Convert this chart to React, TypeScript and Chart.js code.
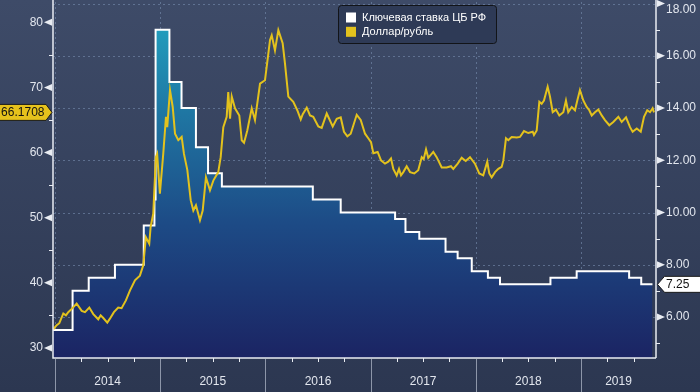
import React, { useEffect, useRef } from 'react';
import { Chart, registerables } from 'chart.js';

Chart.register(...registerables);

// ---------- DATA ----------
const seriesNames = ['Ключевая ставка ЦБ РФ', 'Доллар/рубль'];

// Key rate (CBR), effective dates and values (%)
const rateDates = [
  '2013-12-24', '2014-03-03', '2014-04-28', '2014-07-28', '2014-11-05', '2014-12-12',
  '2014-12-16', '2015-02-02', '2015-03-16', '2015-05-05', '2015-06-16', '2015-08-03',
  '2016-06-14', '2016-09-19', '2017-03-27', '2017-05-02', '2017-06-19', '2017-09-18',
  '2017-10-30', '2017-12-18', '2018-02-12', '2018-03-26', '2018-09-17', '2018-12-17',
  '2019-06-17', '2019-07-29', '2019-09-06',
];
const rateValues = [
  5.5, 7, 7.5, 8, 9.5, 10.5,
  17, 15, 14, 12.5, 11.5, 11,
  10.5, 10, 9.75, 9.25, 9, 8.5,
  8.25, 7.75, 7.5, 7.25, 7.5, 7.75,
  7.5, 7.25, 7.25,
];

// USD/RUB, time as decimal year
const fxYears = [
  2013.985, 2014.016, 2014.041, 2014.079, 2014.104, 2014.126, 2014.159, 2014.206, 2014.254, 2014.285,
  2014.326, 2014.364, 2014.411, 2014.434, 2014.459, 2014.497, 2014.522, 2014.560, 2014.601, 2014.633,
  2014.674, 2014.712, 2014.760, 2014.807, 2014.839, 2014.864, 2014.896, 2014.909, 2014.934, 2014.959,
  2014.971, 2014.997, 2015.029, 2015.055, 2015.067, 2015.093, 2015.119, 2015.141, 2015.172, 2015.204,
  2015.226, 2015.258, 2015.290, 2015.315, 2015.340, 2015.378, 2015.404, 2015.435, 2015.473, 2015.505,
  2015.552, 2015.575, 2015.600, 2015.632, 2015.647, 2015.664, 2015.680, 2015.711, 2015.752, 2015.775,
  2015.797, 2015.828, 2015.870, 2015.901, 2015.949, 2015.996, 2016.028, 2016.044, 2016.060, 2016.091,
  2016.123, 2016.164, 2016.186, 2016.218, 2016.265, 2016.303, 2016.336, 2016.355, 2016.393, 2016.424,
  2016.455, 2016.503, 2016.535, 2016.583, 2016.640, 2016.678, 2016.716, 2016.747, 2016.779, 2016.811,
  2016.868, 2016.906, 2016.947, 2016.978, 2017.004, 2017.026, 2017.067, 2017.099, 2017.137, 2017.168,
  2017.194, 2017.216, 2017.248, 2017.270, 2017.289, 2017.311, 2017.343, 2017.375, 2017.415, 2017.453,
  2017.486, 2017.505, 2017.527, 2017.548, 2017.596, 2017.628, 2017.676, 2017.723, 2017.764, 2017.786,
  2017.828, 2017.866, 2017.904, 2017.945, 2017.992, 2018.033, 2018.071, 2018.109, 2018.128, 2018.151,
  2018.183, 2018.214, 2018.246, 2018.262, 2018.287, 2018.309, 2018.341, 2018.389, 2018.420, 2018.458,
  2018.499, 2018.541, 2018.553, 2018.579, 2018.604, 2018.626, 2018.648, 2018.683, 2018.705, 2018.731,
  2018.762, 2018.794, 2018.832, 2018.857, 2018.879, 2018.912, 2018.943, 2018.965, 2018.990, 2019.022,
  2019.054, 2019.079, 2019.102, 2019.133, 2019.165, 2019.197, 2019.228, 2019.269, 2019.307, 2019.355,
  2019.387, 2019.428, 2019.466, 2019.491, 2019.530, 2019.568, 2019.599, 2019.630, 2019.656, 2019.681,
  2019.694,
];
const fxValues = [
  32.9, 33.5, 33.8, 35.3, 35.0, 35.5, 36.0, 36.8, 35.7, 35.5,
  36.2, 35.2, 34.4, 35.0, 34.6, 33.9, 34.5, 35.5, 36.2, 36.1,
  37.3, 38.8, 40.4, 41.1, 42.7, 47.0, 46.0, 48.6, 50.6, 59.3,
  59.8, 53.7, 59.8, 65.5, 63.9, 69.6, 67.0, 62.9, 61.9, 62.4,
  59.8, 57.3, 52.7, 51.1, 51.9, 49.6, 51.1, 56.2, 54.2, 55.7,
  57.0, 59.3, 63.9, 65.5, 69.3, 65.2, 68.6, 66.8, 65.7, 61.9,
  61.5, 63.4, 66.8, 65.0, 70.6, 71.1, 75.2, 77.3, 78.0, 75.7,
  78.8, 76.8, 73.7, 68.6, 67.8, 66.5, 65.1, 65.9, 66.9, 65.7,
  65.5, 64.0, 63.8, 66.0, 64.0, 65.2, 65.4, 63.2, 62.5, 62.9,
  65.8, 65.0, 62.9, 62.2, 61.6, 59.9, 60.1, 58.8, 58.3, 58.6,
  59.1, 57.5, 56.5, 57.5, 56.5, 57.0, 57.9, 57.0, 56.8, 57.3,
  59.3, 59.0, 60.5, 59.2, 60.1, 59.3, 57.7, 57.7, 57.9, 57.5,
  58.3, 59.2, 58.7, 59.3, 58.3, 56.8, 56.5, 58.6, 56.8, 56.2,
  57.0, 57.5, 57.8, 58.8, 62.2, 61.9, 62.4, 62.3, 62.4, 63.3,
  63.0, 63.2, 62.7, 63.4, 67.8, 67.5, 68.0, 70.1, 68.6, 66.2,
  66.6, 65.7, 66.2, 68.0, 66.2, 67.0, 66.5, 68.0, 69.6, 68.0,
  67.0, 66.5, 65.7, 66.2, 66.6, 65.7, 65.0, 64.2, 64.7, 65.5,
  64.7, 65.4, 63.9, 63.2, 63.7, 63.2, 65.5, 66.5, 66.2, 66.8,
  66.1708,
];

const yearLabels = ['2014', '2015', '2016', '2017', '2018', '2019'];
const leftTicks = [30, 40, 50, 60, 70, 80];
const rightTicks = [6, 8, 10, 12, 14, 16, 18];
const lastFxLabel = '66.1708';
const lastRateLabel = '7.25';

// ---------- HELPERS ----------
function toYear(d: string): number {
  const [y, m, dd] = d.split('-').map(Number);
  const start = Date.UTC(y, 0, 1);
  const end = Date.UTC(y + 1, 0, 1);
  return y + (Date.UTC(y, m - 1, dd) - start) / (end - start);
}

const FONT = '"Liberation Sans", Arial, sans-serif';
const TEXT = '#e2e6ee';
const AXIS = '#e9ecf2';

const bgPlugin = {
  id: 'bgPlugin',
  beforeDraw(chart: any) {
    const { ctx, width, height } = chart;
    const g = ctx.createLinearGradient(0, 0, 0, height);
    g.addColorStop(0, '#3e4b68');
    g.addColorStop(1, '#2c3751');
    ctx.save();
    ctx.fillStyle = g;
    ctx.fillRect(0, 0, width, height);
    ctx.restore();
  },
  beforeDatasetsDraw(chart: any) {
    const { ctx, chartArea: a, scales } = chart;
    ctx.save();
    ctx.beginPath();
    ctx.rect(a.left, a.top - 2, a.right - a.left, a.bottom - a.top + 2);
    ctx.clip();
    ctx.strokeStyle = 'rgba(120,142,175,0.6)';
    ctx.lineWidth = 1;
    ctx.setLineDash([2, 3]);
    rightTicks.forEach((v) => {
      const y = Math.round(scales.y2.getPixelForValue(v)) + 0.5;
      ctx.beginPath();
      ctx.moveTo(a.left, y);
      ctx.lineTo(a.right, y);
      ctx.stroke();
    });
    yearLabels.forEach((yr) => {
      const x = Math.round(scales.x.getPixelForValue(Number(yr))) + 0.5;
      ctx.beginPath();
      ctx.moveTo(x, a.top);
      ctx.lineTo(x, a.bottom);
      ctx.stroke();
    });
    ctx.restore();
  },
  afterDatasetsDraw(chart: any) {
    const { ctx, chartArea: a, scales, height } = chart;
    const sx = scales.x, sl = scales.y, sr = scales.y2;
    ctx.save();
    // axis lines
    ctx.strokeStyle = AXIS;
    ctx.lineWidth = 1.5;
    ctx.beginPath();
    ctx.moveTo(a.left, 0);
    ctx.lineTo(a.left, a.bottom);
    ctx.lineTo(a.right, a.bottom);
    ctx.moveTo(a.right, 0);
    ctx.lineTo(a.right, a.bottom);
    ctx.stroke();

    // left axis arrows + minor ticks
    ctx.fillStyle = AXIS;
    ctx.lineWidth = 1;
    leftTicks.forEach((v) => {
      const y = sl.getPixelForValue(v);
      ctx.beginPath();
      ctx.moveTo(a.left - 9, y);
      ctx.lineTo(a.left - 1, y - 3.5);
      ctx.lineTo(a.left - 1, y + 3.5);
      ctx.closePath();
      ctx.fill();
      const ym = Math.round(sl.getPixelForValue(v + 5)) + 0.5;
      if (ym > a.top) {
        ctx.beginPath();
        ctx.moveTo(a.left - 4, ym);
        ctx.lineTo(a.left, ym);
        ctx.stroke();
      }
    });
    // right axis arrows + minor ticks
    rightTicks.forEach((v) => {
      const y = sr.getPixelForValue(v);
      ctx.beginPath();
      ctx.moveTo(a.right + 1, y - 3.5);
      ctx.lineTo(a.right + 1, y + 3.5);
      ctx.lineTo(a.right + 9, y);
      ctx.closePath();
      ctx.fill();
      const ym = Math.round(sr.getPixelForValue(v - 1)) + 0.5;
      if (ym < a.bottom) {
        ctx.beginPath();
        ctx.moveTo(a.right, ym);
        ctx.lineTo(a.right + 4, ym);
        ctx.stroke();
      }
    });

    // x axis: year separators, quarter ticks and year labels
    ctx.font = `12px ${FONT}`;
    ctx.textAlign = 'center';
    ctx.textBaseline = 'middle';
    yearLabels.forEach((yr) => {
      const y0 = Number(yr);
      const x = Math.round(sx.getPixelForValue(y0)) + 0.5;
      ctx.strokeStyle = '#8d96a9';
      ctx.beginPath();
      ctx.moveTo(x, a.bottom + 1);
      ctx.lineTo(x, height);
      ctx.stroke();
      ctx.strokeStyle = AXIS;
      [0.25, 0.5, 0.75].forEach((q) => {
        if (y0 + q < sx.max) {
          const xq = Math.round(sx.getPixelForValue(y0 + q)) + 0.5;
          ctx.beginPath();
          ctx.moveTo(xq, a.bottom);
          ctx.lineTo(xq, a.bottom + 4);
          ctx.stroke();
        }
      });
      const xc = (sx.getPixelForValue(y0) + sx.getPixelForValue(Math.min(y0 + 1, sx.max))) / 2;
      ctx.fillStyle = TEXT;
      ctx.fillText(yr, xc, 382);
    });

    // legend box
    const lx = 338.5, ly = 5.5, lw = 158, lh = 38, r = 3;
    ctx.beginPath();
    ctx.moveTo(lx + r, ly);
    ctx.lineTo(lx + lw - r, ly);
    ctx.quadraticCurveTo(lx + lw, ly, lx + lw, ly + r);
    ctx.lineTo(lx + lw, ly + lh - r);
    ctx.quadraticCurveTo(lx + lw, ly + lh, lx + lw - r, ly + lh);
    ctx.lineTo(lx + r, ly + lh);
    ctx.quadraticCurveTo(lx, ly + lh, lx, ly + lh - r);
    ctx.lineTo(lx, ly + r);
    ctx.quadraticCurveTo(lx, ly, lx + r, ly);
    ctx.closePath();
    ctx.fillStyle = '#2e3a56';
    ctx.fill();
    ctx.strokeStyle = '#121418';
    ctx.lineWidth = 1;
    ctx.stroke();
    const dsColors = ['#ffffff', '#e3c21d'];
    ctx.font = `11px ${FONT}`;
    ctx.textAlign = 'left';
    seriesNames.forEach((name, i) => {
      const cy = 17.5 + i * 14.3;
      ctx.fillStyle = dsColors[i];
      ctx.fillRect(346, cy - 5, 10, 10);
      ctx.fillStyle = '#ffffff';
      ctx.fillText(name, 362, cy);
    });

    // last value labels
    const fy = sl.getPixelForValue(fxValues[fxValues.length - 1]);
    ctx.beginPath();
    ctx.moveTo(-2, fy - 8);
    ctx.lineTo(46, fy - 8);
    ctx.lineTo(52, fy);
    ctx.lineTo(46, fy + 8);
    ctx.lineTo(-2, fy + 8);
    ctx.closePath();
    ctx.fillStyle = '#e6c21c';
    ctx.fill();
    ctx.strokeStyle = '#1a1a1a';
    ctx.stroke();
    ctx.fillStyle = '#111111';
    ctx.font = `12px ${FONT}`;
    ctx.textAlign = 'right';
    ctx.fillText(lastFxLabel, 44.5, fy + 0.5);

    const ry = sr.getPixelForValue(rateValues[rateValues.length - 1]);
    ctx.beginPath();
    ctx.moveTo(657.5, ry);
    ctx.lineTo(664.5, ry - 8);
    ctx.lineTo(702, ry - 8);
    ctx.lineTo(702, ry + 8);
    ctx.lineTo(664.5, ry + 8);
    ctx.closePath();
    ctx.fillStyle = '#ffffff';
    ctx.fill();
    ctx.strokeStyle = '#1a1a1a';
    ctx.stroke();
    ctx.fillStyle = '#111111';
    ctx.textAlign = 'left';
    ctx.fillText(lastRateLabel, 666, ry + 0.5);
    ctx.restore();
  },
};

export default function App() {
  const ref = useRef<HTMLCanvasElement | null>(null);

  useEffect(() => {
    document.body.style.margin = '0';
    const canvas = ref.current;
    if (!canvas) return;

    const rateData = rateDates.map((d, i) => ({ x: toYear(d), y: rateValues[i] }));
    const fxData = fxYears.map((x, i) => ({ x, y: fxValues[i] }));

    const chart = new Chart(canvas, {
      type: 'line',
      data: {
        datasets: [
          {
            label: seriesNames[0],
            data: rateData,
            yAxisID: 'y2',
            borderColor: '#ffffff',
            borderWidth: 2,
            stepped: 'before',
            fill: 'start',
            pointRadius: 0,
            order: 2,
            backgroundColor: (c: any) => {
              const area = c.chart.chartArea;
              if (!area) return 'rgba(30,80,140,0.8)';
              const g = c.chart.ctx.createLinearGradient(0, area.top, 0, area.bottom);
              g.addColorStop(0, '#22a8c4');
              g.addColorStop(0.3, '#1f78a4');
              g.addColorStop(0.62, '#1d4b86');
              g.addColorStop(1, '#1b2463');
              return g;
            },
          },
          {
            label: seriesNames[1],
            data: fxData,
            yAxisID: 'y',
            borderColor: '#e3c21d',
            borderWidth: 2,
            pointRadius: 0,
            tension: 0,
            fill: false,
            order: 1,
          },
        ],
      },
      options: {
        animation: false,
        responsive: false,
        devicePixelRatio: 1,
        layout: { padding: { top: 2, left: 0, right: 0, bottom: 0 } },
        plugins: { legend: { display: false }, tooltip: { enabled: false } },
        scales: {
          x: {
            type: 'linear',
            min: 2013.981,
            max: 2019.713,
            afterBuildTicks: (s: any) => {
              s.ticks = yearLabels.map((y) => ({ value: Number(y) }));
            },
            ticks: { display: false },
            grid: { display: false, drawTicks: false },
            border: { display: false },
            afterFit: (s: any) => {
              s.height = 34;
            },
          },
          y: {
            type: 'linear',
            position: 'left',
            min: 28.46,
            max: 83.12,
            afterBuildTicks: (s: any) => {
              s.ticks = leftTicks.map((v) => ({ value: v }));
            },
            ticks: {
              color: TEXT,
              padding: 10,
              font: { size: 12, family: FONT, lineHeight: 1 },
              callback: (v: any) => String(v),
            },
            grid: { display: false, drawTicks: false },
            border: { display: false },
            afterFit: (s: any) => {
              s.width = 53;
              s.paddingTop = 0;
              s.paddingBottom = 0;
            },
          },
          y2: {
            type: 'linear',
            position: 'right',
            min: 4.43,
            max: 18.06,
            afterBuildTicks: (s: any) => {
              s.ticks = rightTicks.map((v) => ({ value: v }));
            },
            ticks: {
              color: TEXT,
              padding: 10,
              font: { size: 12, family: FONT, lineHeight: 1 },
              callback: (v: any) => (Number(v) === 18 ? ['', Number(v).toFixed(2)] : Number(v).toFixed(2)),
            },
            grid: { display: false, drawTicks: false },
            border: { display: false },
            afterFit: (s: any) => {
              s.width = 44;
              s.paddingTop = 0;
              s.paddingBottom = 0;
            },
          },
        },
      },
      plugins: [bgPlugin],
    });

    return () => chart.destroy();
  }, []);

  return (
    <div style={{ width: 700, height: 392, position: 'relative' }}>
      <canvas ref={ref} width={700} height={392} style={{ display: 'block', width: 700, height: 392 }} />
    </div>
  );
}
